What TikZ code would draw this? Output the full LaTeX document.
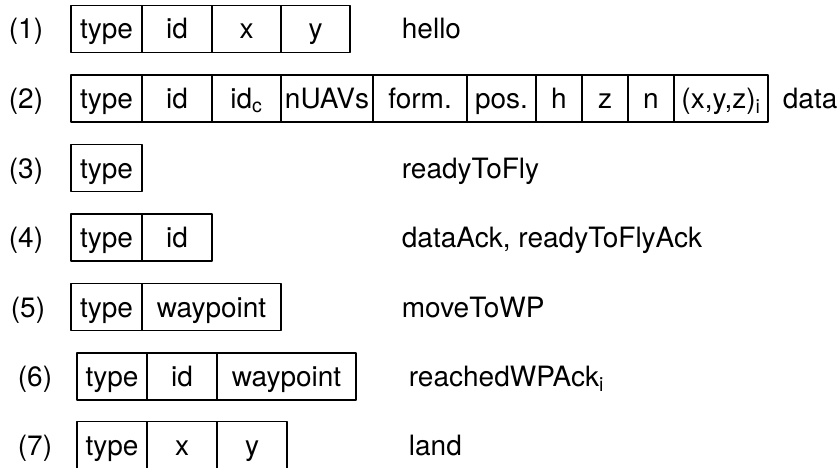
\documentclass[tikz,border=0pt]{standalone}
\usepackage{fontspec}
\setmainfont{TeX Gyre Heros}
\usetikzlibrary{positioning}
\tikzset{
  field/.style={draw, rectangle, minimum height=47pt, inner sep=0pt, outer sep=0pt, text height=20pt, text depth=0pt},
  tag/.style={inner sep=0pt, text height=20pt, text depth=0pt},
  msg/.style={tag, anchor=west},
}
\begin{document}
\begin{tikzpicture}[x=1pt, y=1pt, line width=1.8pt, font={\fontsize{28pt}{32pt}\selectfont}, line join=round]
	\useasboundingbox (0,0) rectangle (840,-468);
	% (1) hello
	\node[tag] (l1) at (26,-29) {(1)};
	\node[field, minimum width=71pt, anchor=west] (f1a) at (71,-29) {type};
	\node[field, minimum width=70pt, right=0pt of f1a] (f1b) {id};
	\node[field, minimum width=69pt, right=0pt of f1b] (f1c) {x};
	\node[field, minimum width=69pt, right=0pt of f1c] (f1d) {y};
	\node[msg] (m1) at (401,-29) {hello};
	% (2) data
	\node[tag] (l2) at (26,-98.5) {(2)};
	\node[field, minimum width=71pt, anchor=west] (f2a) at (71,-98.5) {type};
	\node[field, minimum width=70pt, right=0pt of f2a] (f2b) {id};
	\node[field, minimum width=69pt, right=0pt of f2b] (f2c) {id\textsubscript{c}};
	\node[field, minimum width=92pt, right=0pt of f2c] (f2d) {nUAVs};
	\node[field, minimum width=94pt, right=0pt of f2d] (f2e) {form.};
	\node[field, minimum width=69pt, right=0pt of f2e] (f2f) {pos.};
	\node[field, minimum width=46pt, right=0pt of f2f] (f2g) {h};
	\node[field, minimum width=46pt, right=0pt of f2g] (f2h) {z};
	\node[field, minimum width=46pt, right=0pt of f2h] (f2i) {n};
	\node[field, minimum width=94pt, right=0pt of f2i] (f2j) {(x,y,z)\textsubscript{i}};
	\node[msg] (m2) at (782,-98.5) {data};
	% (3) readyToFly
	\node[tag] (l3) at (26,-168) {(3)};
	\node[field, minimum width=71pt, anchor=west] (f3a) at (71,-168) {type};
	\node[msg] (m3) at (401,-168) {readyToFly};
	% (4) acks
	\node[tag] (l4) at (26,-237.5) {(4)};
	\node[field, minimum width=71pt, anchor=west] (f4a) at (71,-237.5) {type};
	\node[field, minimum width=70pt, right=0pt of f4a] (f4b) {id};
	\node[msg] (m4) at (401,-237.5) {dataAck, readyToFlyAck};
	% (5) moveToWP
	\node[tag] (l5) at (28,-307) {(5)};
	\node[field, minimum width=71pt, anchor=west] (f5a) at (71,-307) {type};
	\node[field, minimum width=139pt, right=0pt of f5a] (f5b) {waypoint};
	\node[msg] (m5) at (401,-307) {moveToWP};
	% (6) reachedWPAck
	\node[tag] (l6) at (35,-376.5) {(6)};
	\node[field, minimum width=70pt, anchor=west] (f6a) at (77,-376.5) {type};
	\node[field, minimum width=70pt, right=0pt of f6a] (f6b) {id};
	\node[field, minimum width=139pt, right=0pt of f6b] (f6c) {waypoint};
	\node[msg] (m6) at (408,-376.5) {reachedWPAck\textsubscript{i}};
	% (7) land
	\node[tag] (l7) at (35,-445) {(7)};
	\node[field, minimum width=70pt, anchor=west] (f7a) at (77,-445) {type};
	\node[field, minimum width=70pt, right=0pt of f7a] (f7b) {x};
	\node[field, minimum width=70pt, right=0pt of f7b] (f7c) {y};
	\node[msg] (m7) at (408,-445) {land};
\end{tikzpicture}
\end{document}
